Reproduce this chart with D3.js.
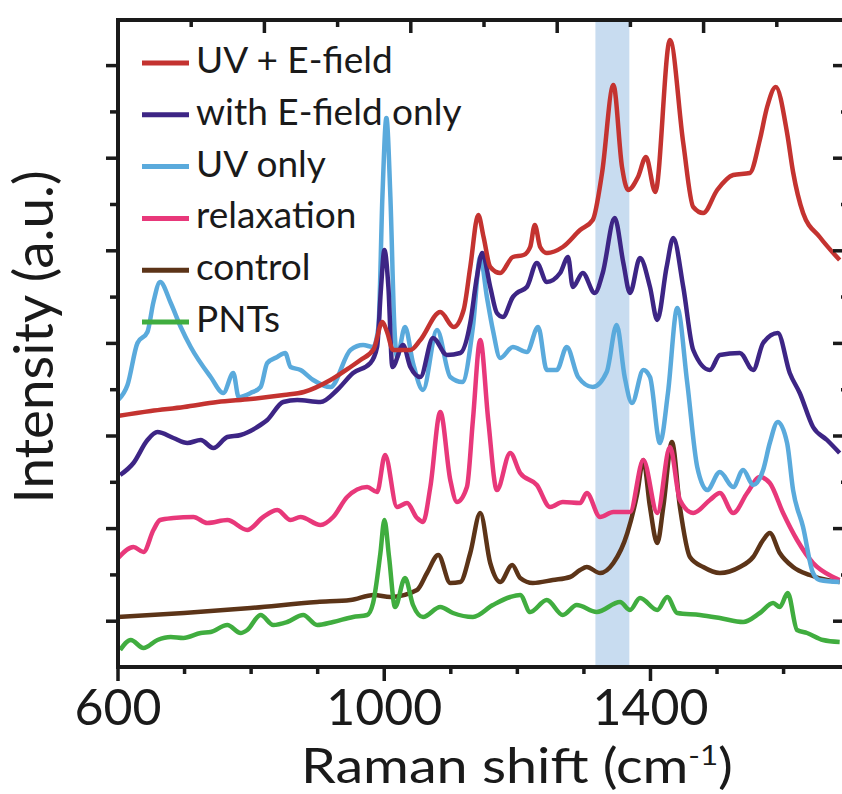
<!DOCTYPE html>
<html>
<head>
<meta charset="utf-8">
<script src="https://cdn.jsdelivr.net/npm/d3@7"></script>
<style>
  body { margin: 0; background: #fff; }
  svg { display: block; font-family: Lato, "Open Sans", sans-serif; }
</style>
</head>
<body>
<svg id="chart" width="842" height="794"></svg>
<script>
// Raman spectra, [shift (cm-1), intensity (a.u., stacked offsets)]
const uvEfield = [[600,251],[650,256],[700,260],[750,265],[800,268],[850,272],[880,275],[920,287],[950,300],[965,307],[985,318],[998,345],[1005,335],[1014,317],[1040,317],[1055,327],[1085,355],[1105,340],[1120,357],[1130,400],[1142,452],[1150,430],[1160,400],[1175,394],[1194,410],[1210,412],[1220,420],[1227,442],[1235,420],[1245,414],[1269,420],[1295,437],[1314,447],[1328,494],[1345,582],[1358,500],[1367,477],[1382,490],[1394,510],[1408,475],[1430,627],[1450,524],[1465,460],[1480,454],[1501,477],[1525,492],[1550,494],[1565,527],[1576,560],[1589,580],[1606,534],[1615,495],[1630,454],[1655,430],[1685,407]];
const efieldOnly = [[604,192],[624,204],[645,227],[660,235],[684,229],[705,224],[725,227],[744,219],[765,230],[785,232],[810,240],[825,247],[849,265],[870,267],[905,265],[930,277],[954,294],[980,304],[990,320],[996,380],[1001,417],[1007,380],[1013,300],[1029,322],[1040,300],[1055,290],[1074,329],[1095,312],[1115,314],[1130,344],[1140,390],[1148,414],[1160,380],[1170,354],[1179,350],[1194,370],[1200,374],[1215,380],[1230,404],[1245,385],[1265,394],[1277,410],[1284,380],[1299,394],[1317,374],[1329,394],[1347,449],[1360,404],[1370,374],[1385,409],[1400,380],[1411,347],[1425,400],[1435,429],[1450,380],[1465,317],[1490,297],[1505,312],[1535,314],[1555,297],[1570,324],[1592,334],[1610,294],[1625,274],[1645,240],[1666,227],[1685,214]];
const uvOnly = [[601,267],[615,282],[630,324],[645,335],[654,365],[664,385],[680,364],[695,340],[710,320],[740,290],[759,274],[774,294],[782,270],[800,274],[815,280],[825,304],[840,310],[852,314],[860,300],[875,297],[894,287],[920,280],[950,317],[969,322],[984,320],[992,340],[998,470],[1004,549],[1010,470],[1016,340],[1020,310],[1032,340],[1044,304],[1059,277],[1080,337],[1100,290],[1118,285],[1134,340],[1145,410],[1155,370],[1164,337],[1175,309],[1194,320],[1215,315],[1232,340],[1245,297],[1260,297],[1275,320],[1292,290],[1314,280],[1335,295],[1350,342],[1362,290],[1373,264],[1390,297],[1400,290],[1415,224],[1427,274],[1441,359],[1456,284],[1471,200],[1486,177],[1505,195],[1525,180],[1540,197],[1555,182],[1570,197],[1580,224],[1592,245],[1606,224],[1615,177],[1630,140],[1645,94],[1655,87],[1685,85]];
const relaxation = [[601,109],[624,120],[639,115],[654,137],[664,147],[684,149],[714,150],[735,144],[765,147],[795,137],[819,150],[840,157],[860,147],[875,150],[905,142],[924,150],[945,170],[975,180],[990,175],[1002,212],[1020,160],[1035,164],[1050,149],[1059,145],[1070,180],[1085,255],[1100,187],[1110,165],[1125,180],[1134,247],[1145,327],[1157,247],[1170,177],[1190,214],[1205,194],[1230,182],[1250,160],[1269,165],[1295,164],[1305,174],[1325,150],[1345,155],[1370,155],[1390,207],[1411,154],[1430,220],[1445,167],[1465,154],[1490,167],[1505,174],[1525,154],[1546,174],[1565,190],[1580,184],[1600,154],[1621,127],[1645,104],[1675,90],[1685,87]];
const control = [[600,50],[700,54],[800,59],[900,65],[950,67],[985,72],[1010,70],[1050,77],[1065,94],[1082,112],[1100,84],[1115,85],[1130,114],[1145,154],[1160,104],[1175,85],[1193,102],[1205,89],[1224,84],[1254,87],[1280,90],[1295,97],[1305,100],[1325,94],[1345,104],[1366,134],[1381,174],[1390,207],[1400,160],[1411,124],[1420,160],[1433,225],[1445,160],[1460,110],[1480,100],[1505,94],[1535,100],[1555,110],[1570,127],[1580,134],[1595,114],[1615,100],[1640,92],[1666,87],[1685,85]];
const pnts = [[604,17],[620,27],[639,19],[660,27],[680,30],[699,29],[725,34],[740,35],[765,42],[785,34],[795,37],[815,52],[834,42],[855,45],[879,52],[900,42],[924,45],[954,50],[975,52],[984,64],[995,114],[1001,147],[1008,110],[1017,60],[1032,89],[1044,62],[1059,50],[1085,60],[1104,54],[1134,50],[1164,62],[1190,70],[1205,72],[1220,55],[1245,67],[1269,52],[1290,62],[1320,55],[1355,65],[1370,57],[1385,69],[1411,57],[1426,70],[1441,54],[1475,52],[1505,49],[1540,45],[1565,54],[1585,64],[1595,60],[1607,74],[1621,37],[1636,34],[1660,27],[1685,25]];

const seriesNames = ["UV + E-field", "with E-field only", "UV only", "relaxation", "control", "PNTs"];
const seriesColors = ["#c43330", "#3d2585", "#5aaadc", "#e8387a", "#5c3418", "#40ad3f"];
const xTickLabels = [600, 1000, 1400];
const highlightBand = [1318, 1369];

const allSeries = [uvEfield, efieldOnly, uvOnly, relaxation, control, pnts];
const drawOrder = [4, 3, 2, 1, 0, 5];

const svg = d3.select("#chart");
const ink = "#1a1a1a";

const x = d3.scaleLinear().domain([600, 1688.5]).range([117.5, 842]);
const xTop = d3.scaleLinear().domain([600, 1600]).range([117.5, 849.5]);
const y = d3.scaleLinear().domain([0, 648]).range([667, 19]);
const yStep = 46.3;

// shaded band
svg.append("rect")
  .attr("x", x(highlightBand[0]))
  .attr("y", y(648))
  .attr("width", x(highlightBand[1]) - x(highlightBand[0]))
  .attr("height", y(0) - y(648))
  .attr("fill", "#c8dcf0");

// spectra
let line = d3.line().x(d => x(d[0])).y(d => y(d[1])).curve(d3.curveMonotoneX);
svg.append("g")
  .selectAll("path")
  .data(drawOrder)
  .join("path")
  .attr("d", i => line(allSeries[i]))
  .attr("fill", "none")
  .attr("stroke", i => seriesColors[i])
  .attr("stroke-width", 4.5)
  .attr("stroke-linejoin", "round");

// axes
function styleAxis(g) {
  g.select(".domain").remove();
  g.selectAll(".tick line").attr("stroke", ink).attr("stroke-width", 3.5);
  g.selectAll(".tick text").attr("fill", ink);
}

let majorY = d3.range(1, 14, 2).map(k => k * yStep);
let minorY = d3.range(2, 14, 2).map(k => k * yStep);

svg.append("g").attr("transform", "translate(118,0)")
  .call(d3.axisLeft(y).tickValues(majorY).tickSize(12).tickFormat(""))
  .call(styleAxis);
svg.append("g").attr("transform", "translate(118,0)")
  .call(d3.axisLeft(y).tickValues(minorY).tickSize(8).tickFormat(""))
  .call(styleAxis);

svg.append("g").attr("transform", "translate(847,0)")
  .call(d3.axisLeft(y).tickValues(majorY).tickSize(14).tickFormat(""))
  .call(styleAxis);
svg.append("g").attr("transform", "translate(847,0)")
  .call(d3.axisLeft(y).tickValues(minorY).tickSize(6).tickFormat(""))
  .call(styleAxis);

let bottom = svg.append("g").attr("transform", "translate(0,666)")
  .call(d3.axisBottom(x).tickValues(xTickLabels).tickSize(15).tickPadding(8).tickFormat(d3.format("d")))
  .call(styleAxis);
bottom.selectAll(".tick text")
  .attr("font-size", 50)
  .attr("font-family", "Lato, sans-serif");

svg.append("g").attr("transform", "translate(0,666)")
  .call(d3.axisBottom(x).tickValues([700, 800, 900, 1100, 1200, 1300, 1500, 1600]).tickSize(8).tickFormat(""))
  .call(styleAxis);

svg.append("g").attr("transform", "translate(0,20)")
  .call(d3.axisBottom(xTop).tickValues([800, 1000, 1200, 1400]).tickSize(13).tickFormat(""))
  .call(styleAxis);
svg.append("g").attr("transform", "translate(0,20)")
  .call(d3.axisBottom(xTop).tickValues([700, 900, 1100, 1300, 1500]).tickSize(7).tickFormat(""))
  .call(styleAxis);

// frame
svg.append("path")
  .attr("d", "M842,20 H118 V667 H842")
  .attr("fill", "none")
  .attr("stroke", ink)
  .attr("stroke-width", 4)
  .attr("stroke-linecap", "square");

// axis titles
svg.append("text")
  .attr("x", 517).attr("y", 783)
  .attr("text-anchor", "middle")
  .attr("font-size", 48)
  .attr("fill", ink)
  .attr("textLength", 432)
  .attr("lengthAdjust", "spacingAndGlyphs")
  .html('Raman shift (cm<tspan dy="-18" font-size="27">-1</tspan><tspan dy="18">)</tspan>');

svg.append("text")
  .attr("transform", "translate(53,337) rotate(-90)")
  .attr("text-anchor", "middle")
  .attr("font-size", 54)
  .attr("fill", ink)
  .attr("textLength", 333)
  .attr("lengthAdjust", "spacingAndGlyphs")
  .text("Intensity (a.u.)");

// legend
let legend = svg.append("g")
  .selectAll("g")
  .data(seriesNames)
  .join("g")
  .attr("transform", (d, i) => `translate(142,${63 + i * 51.8})`);
legend.append("line")
  .attr("x1", 0).attr("x2", 47)
  .attr("stroke", (d, i) => seriesColors[i])
  .attr("stroke-width", 5);
legend.append("text")
  .attr("x", 54).attr("y", 10)
  .attr("font-size", 37)
  .attr("fill", ink)
  .text(d => d);
</script>
</body>
</html>
